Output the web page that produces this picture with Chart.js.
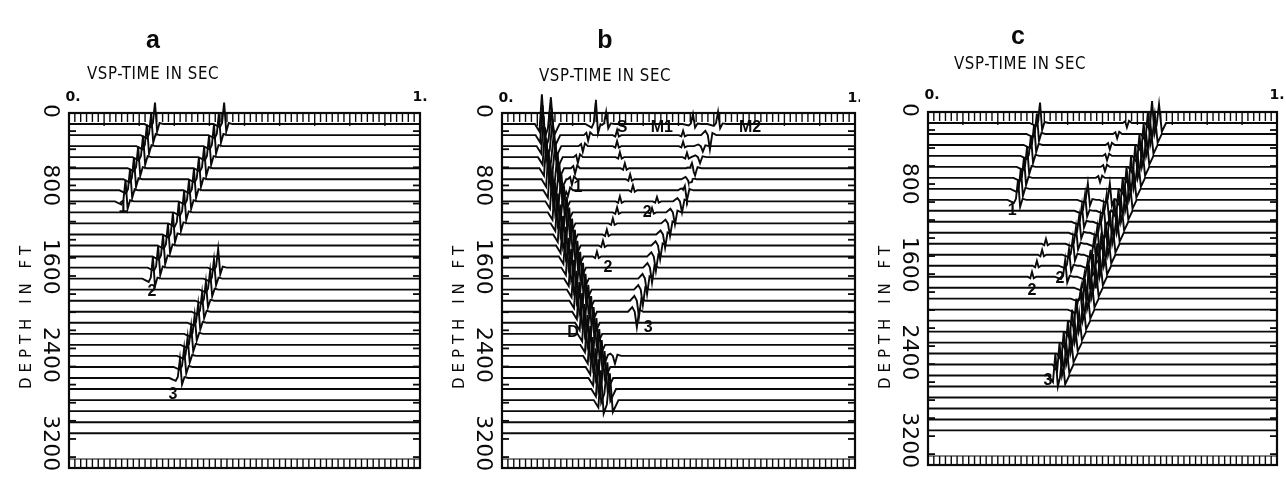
<!DOCTYPE html>
<html><head><meta charset="utf-8">
<script src="https://cdn.jsdelivr.net/npm/chart.js@4.4.1/dist/chart.umd.min.js"></script>
<style>
html,body{margin:0;padding:0;background:#fff;}
#wrap{position:relative;width:1286px;height:481px;overflow:hidden;background:#fff;}
.pane{position:absolute;top:0;height:481px;}
canvas{display:block;}
</style></head><body>
<div id="wrap">
<div class="pane" style="left:0;width:430px"><canvas id="ca" width="430" height="481"></canvas></div>
<div class="pane" style="left:430px;width:430px"><canvas id="cb" width="430" height="481"></canvas></div>
<div class="pane" style="left:860px;width:426px"><canvas id="cc" width="426" height="481"></canvas></div>
</div>
<script>
// ---------------- DATA ----------------
const traceDepthsFt = [100,200,300,400,500,600,700,800,900,1000,1100,1200,1300,1400,1500,1600,1700,1800,1900,2000,2100,2200,2300,2400,2500,2600,2700,2800,2900];
const depthTickValues = [0,800,1600,2400,3200];
const depthTickLabels = ['0','800','1600','2400','3200'];
const timeTickValues = [0,1];
const timeTickLabels = ['0.','1.'];
const stubDepthsFt = [164,328,492,656,820,984,1148,1312,1476,1640,1804,1968,2132,2296,2460,2624,2788,2952,3116];
const panelLetters = ['a','b','c'];
const timeAxisTitle = 'VSP-TIME IN SEC';
const depthAxisTitle = 'DEPTH IN FT';

// wavelet shapes (time offset in s, relative amplitude)
const spikeOffs = [-0.03,-0.012,-0.006,0,0.006,0.013,0.024];
const spikeVals = [0,-0.15,0.05,1,-0.35,0.05,0];
const directOffs = [-0.02,-0.007,0,0.008,0.017,0.0255,0.034,0.05];
const directVals = [0,-0.25,1.0,-0.45,-0.15,0.9,-0.4,0];
const doubleOffs = [-0.02,-0.007,0,0.007,0.013,0.02,0.028,0.04];
const doubleVals = [0,-0.3,1,-0.5,-0.1,0.85,-0.4,0];
const wigOffs = [-0.012,-0.005,0,0.006,0.014];
const wigVals = [0,0.4,-1,0.5,0];
const bumpOffs = [-0.012,-0.005,0,0.005,0.012];
const bumpVals = [0,-0.3,1,-0.3,0];
const veeOffs = [-0.025,-0.013,-0.006,0,0.007,0.018];
const veeVals = [0,0.3,0,-1,0.15,0];

// panel a : arrival times (s) per trace, starting trace number given
const aEv1Times = [0.245,0.234,0.222,0.211,0.197,0.185,0.174,0.161];               // traces 1-8
const aEv2Times = [0.442,0.427,0.413,0.399,0.385,0.370,0.356,0.342,0.328,0.313,0.296,0.282,0.268,0.254,0.239]; // 1-15
const aEv3Times = [0.425,0.413,0.402,0.390,0.379,0.368,0.358,0.348,0.338,0.328,0.316]; // 14-24
const aLabelTexts = ['1','2','3'];
const aLabelTimes = [0.154,0.236,0.296];
const aLabelDepths = [860,1621,2554];

// panel b
const bDirectTimes = [0.113,0.115,0.118,0.122,0.126,0.132,0.137,0.143,0.150,0.158,0.165,0.173,0.181,0.188,0.196,0.204,0.211,0.219,0.227,0.234,0.242,0.250,0.257,0.265,0.273,0.280]; // 1-26
const bTopSpikeTimes = [0.266,0.295,0.541,0.612];   // trace 1
const bTopSpikeAmps = [220,110,90,110];
const bR1Times = [0.244,0.229,0.215,0.207,0.198,0.187];   // 2-7
const bSTimes = [0.326,0.326,0.334,0.348,0.363,0.371];    // 2-7
const bR2Times = [0.334,0.326,0.314,0.297,0.286,0.269];   // 8-13
const bM1Times = [0.513,0.513,0.524,0.538,0.533,0.518];   // 2-7
const bBTimes = [0.439,0.425];                            // 8-9
const bR3Times = [0.589,0.569,0.561,0.547,0.533,0.524,0.510,0.490,0.476,0.462,0.448,0.436,0.425,0.411,0.399,0.388,0.382]; // 2-18
const bR3Amps = [130,50,55,60,70,80,100,110,115,120,125,130,135,140,140,145,140];
const bXTimes = [0.320];                                  // 22
const bLabelTexts = ['S','M1','M2','1','2','2','3','D'];
const bLabelTimes = [0.340,0.453,0.703,0.215,0.411,0.300,0.414,0.201];
const bLabelDepths = [136,136,136,679,906,1404,1947,1993];

// panel c
const cEv1Times = [0.321,0.312,0.304,0.295,0.284,0.275,0.266,0.258];  // 1-8
const cMainTimes = [0.642,0.630,0.618,0.606,0.594,0.582,0.569,0.558,0.546,0.534,0.521,0.509,0.497,0.485,0.473,0.461,0.449,0.437,0.425,0.413,0.401,0.389,0.377,0.365]; // 1-24
const cEv2aTimes = [0.458,0.450,0.441,0.433,0.424,0.415,0.404,0.393];  // 8-15
const cEv2bTimes = [0.521,0.512,0.503,0.494,0.485,0.476,0.466,0.457,0.448,0.439,0.430]; // 8-18
const cWeak1Times = [0.570,0.542,0.521,0.513,0.507,0.493];            // 1-6
const cWeak2Times = [0.338,0.327,0.312,0.298];                        // 12-15
const cLabelTexts = ['1','2','2','3'];
const cLabelTimes = [0.241,0.298,0.378,0.344];
const cLabelDepths = [897,1630,1513,2446];

// ---------------- BUILD ----------------
const WAVES = {
  spike:{offs:spikeOffs,vals:spikeVals}, direct:{offs:directOffs,vals:directVals},
  double:{offs:doubleOffs,vals:doubleVals}, wig:{offs:wigOffs,vals:wigVals},
  bump:{offs:bumpOffs,vals:bumpVals}, vee:{offs:veeOffs,vals:veeVals}
};
function waveAt(w, dt){
  const o=w.offs, v=w.vals;
  if (dt<=o[0] || dt>=o[o.length-1]) return 0;
  for (let i=1;i<o.length;i++){
    if (dt<=o[i]){ const f=(dt-o[i-1])/(o[i]-o[i-1]); return v[i-1]+f*(v[i]-v[i-1]); }
  }
  return 0;
}
function buildTrace(depth, traceNo, events){
  const contrib=[];
  events.forEach(ev=>{
    const k=traceNo-ev.first;
    if (k>=0 && k<ev.times.length){
      contrib.push({t0:ev.times[k], amp: ev.amps?ev.amps[k]:ev.amp, w:WAVES[ev.wave]});
    }
  });
  const ts=new Set([0,1]);
  contrib.forEach(c=>c.w.offs.forEach(o=>ts.add(+(c.t0+o).toFixed(5))));
  const sorted=[...ts].filter(t=>t>=0&&t<=1).sort((a,b)=>a-b);
  return sorted.map(t=>{
    let v=0; contrib.forEach(c=>{ v+=c.amp*waveAt(c.w,t-c.t0); });
    return {x:t, y:depth-v};
  });
}

const eventsA = [
  {wave:'spike', first:1, times:aEv1Times, amp:195},
  {wave:'spike', first:1, times:aEv2Times, amp:195},
  {wave:'spike', first:14, times:aEv3Times, amp:170}
];
const eventsB = [
  {wave:'direct', first:1, times:bDirectTimes, amp:270},
  ...bTopSpikeTimes.map((t,i)=>({wave:'spike', first:1, times:[t], amp:bTopSpikeAmps[i]})),
  {wave:'wig', first:2, times:bR1Times, amp:50},
  {wave:'bump', first:2, times:bSTimes, amp:45},
  {wave:'bump', first:8, times:bR2Times, amp:45},
  {wave:'bump', first:2, times:bM1Times, amp:40},
  {wave:'bump', first:8, times:bBTimes, amp:40},
  {wave:'vee', first:2, times:bR3Times, amps:bR3Amps},
  {wave:'vee', first:22, times:bXTimes, amp:70}
];
const eventsC = [
  {wave:'spike', first:1, times:cEv1Times, amp:185},
  {wave:'double', first:1, times:cMainTimes, amp:200},
  {wave:'spike', first:8, times:cEv2aTimes, amp:150},
  {wave:'spike', first:8, times:cEv2bTimes, amp:150},
  {wave:'wig', first:1, times:cWeak1Times, amp:40},
  {wave:'bump', first:12, times:cWeak2Times, amp:45}
];

// ---------------- DECOR PLUGIN ----------------
const INK='#0a0a0a';
const decor = {
  id:'decor',
  beforeDatasetsDraw(chart, args, o){
    const {ctx, chartArea:ca, scales:{x:xs, y:ys}} = chart;
    ctx.save();
    ctx.strokeStyle=INK; ctx.lineCap='butt';
    ctx.lineWidth=2.2;
    ctx.strokeRect(ca.left, ca.top, ca.right-ca.left, ca.bottom-ca.top);
    ctx.lineWidth=1.4;
    const n=60;
    for (let k=0;k<=n;k++){
      const x=xs.getPixelForValue(k/n);
      const long=(k%6===0);
      ctx.beginPath(); ctx.moveTo(x,ca.top); ctx.lineTo(x,ca.top+(long?13:9)); ctx.stroke();
      ctx.beginPath(); ctx.moveTo(x,ca.bottom); ctx.lineTo(x,ca.bottom-9); ctx.stroke();
    }
    ctx.beginPath(); ctx.moveTo(ca.left,ca.bottom-9); ctx.lineTo(ca.right,ca.bottom-9); ctx.lineWidth=1.2; ctx.stroke();
    ctx.lineWidth=1.8;
    stubDepthsFt.forEach(d=>{
      const y=ys.getPixelForValue(d);
      ctx.beginPath(); ctx.moveTo(ca.left,y); ctx.lineTo(ca.left+7,y); ctx.stroke();
      ctx.beginPath(); ctx.moveTo(ca.right-7,y); ctx.lineTo(ca.right,y); ctx.stroke();
    });
    ctx.restore();
  },
  afterDraw(chart, args, o){
    const {ctx, chartArea:ca, scales:{x:xs, y:ys}} = chart;
    ctx.save();
    ctx.fillStyle=INK;
    // panel letter
    ctx.font='bold 25px "Liberation Sans", Arial, sans-serif';
    ctx.textAlign='center'; ctx.textBaseline='alphabetic';
    ctx.fillText(o.letter, o.letterX, o.letterY);
    // time axis title
    ctx.save();
    ctx.translate(o.subX, o.subY);
    ctx.scale(1,1.15);
    ctx.font='15px "DejaVu Sans", sans-serif';
    ctx.letterSpacing='0.6px';
    ctx.textAlign='center';
    ctx.textBaseline='middle';
    ctx.fillText(timeAxisTitle, 0, 0);
    ctx.restore();
    // time tick labels
    ctx.font='bold 14px "DejaVu Sans", sans-serif';
    ctx.textAlign='center';
    ctx.textBaseline='middle';
    timeTickValues.forEach((v,i)=>{
      ctx.fillText(timeTickLabels[i], xs.getPixelForValue(v)+(i===0?4:0), o.tickY);
    });
    // depth tick labels (rotated clockwise, ending at tick)
    ctx.font='22px "DejaVu Sans", sans-serif';
    depthTickValues.forEach((v,i)=>{
      const y=ys.getPixelForValue(v)+5;
      ctx.save(); ctx.translate(ca.left-19, y); ctx.rotate(Math.PI/2);
      ctx.textAlign='right'; ctx.textBaseline='middle';
      ctx.fillText(depthTickLabels[i],0,0); ctx.restore();
    });
    // depth axis title
    ctx.save(); ctx.translate(ca.left-42, o.depthTitleY); ctx.rotate(-Math.PI/2);
    ctx.font='15px "DejaVu Sans", sans-serif';
    ctx.letterSpacing='5px';
    ctx.textAlign='center'; ctx.textBaseline='middle';
    ctx.fillText(depthAxisTitle,0,0); ctx.restore();
    // event labels
    ctx.font='bold 16px "Liberation Sans", Arial, sans-serif';
    ctx.textAlign='center'; ctx.textBaseline='middle';
    o.labels.texts.forEach((t,i)=>{
      ctx.fillText(t, xs.getPixelForValue(o.labels.times[i]), ys.getPixelForValue(o.labels.depths[i]));
    });
    ctx.restore();
  }
};

function makeChart(id, events, pad, opts){
  const datasets = traceDepthsFt.map((d,i)=>({
    data: buildTrace(d, i+1, events),
    borderColor: INK, borderWidth: 1.9, pointRadius: 0, tension: 0, fill: false, clip: false
  }));
  return new Chart(document.getElementById(id), {
    type:'line',
    data:{datasets},
    options:{
      responsive:false, animation:false, events:[],
      layout:{padding:pad},
      scales:{
        x:{type:'linear', min:0, max:1, display:false},
        y:{type:'linear', min:0, max:3215, reverse:true, display:false}
      },
      plugins:{legend:{display:false}, tooltip:{enabled:false}, decor:opts}
    },
    plugins:[decor]
  });
}

makeChart('ca', eventsA, {left:69,right:10,top:113,bottom:13},
  {letter:panelLetters[0], letterX:153, letterY:48, subX:153, subY:75, tickY:97, depthTitleY:315,
   labels:{texts:aLabelTexts, times:aLabelTimes, depths:aLabelDepths}});
makeChart('cb', eventsB, {left:72,right:5,top:113,bottom:13},
  {letter:panelLetters[1], letterX:175, letterY:48, subX:175, subY:77, tickY:98, depthTitleY:315,
   labels:{texts:bLabelTexts, times:bLabelTimes, depths:bLabelDepths}});
makeChart('cc', eventsC, {left:68,right:9,top:112,bottom:16},
  {letter:panelLetters[2], letterX:158, letterY:44, subX:160, subY:65, tickY:95, depthTitleY:315,
   labels:{texts:cLabelTexts, times:cLabelTimes, depths:cLabelDepths}});
</script>
</body></html>
